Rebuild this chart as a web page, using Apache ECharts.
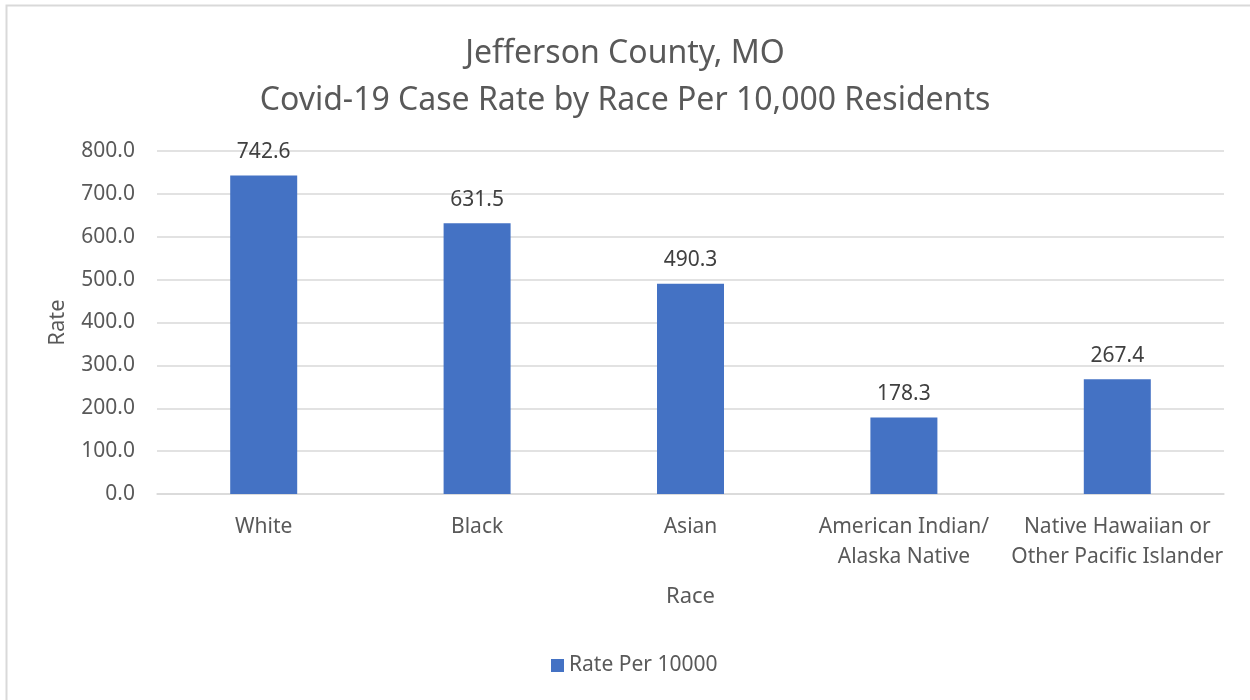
<!DOCTYPE html>
<html><head><meta charset="utf-8">
<script src="https://cdn.jsdelivr.net/npm/echarts@6/dist/echarts.min.js"></script>
<style>html,body{margin:0;padding:0;background:#fff}#c{width:1250px;height:700px}</style>
</head><body><div id="c"></div>
<script>
const categories = ['White', 'Black', 'Asian', 'American Indian/\nAlaska Native', 'Native Hawaiian or\nOther Pacific Islander'];
const rates = [742.6, 631.5, 490.3, 178.3, 267.4];
const seriesName = 'Rate Per 10000';
const titleLines = ['Jefferson County, MO', 'Covid-19 Case Rate by Race Per 10,000 Residents'];

const FONT = 'Noto Sans';
const TXT = '#595959';
const chart = echarts.init(document.getElementById('c'));
chart.setOption({
  animation: false,
  textStyle: { fontFamily: FONT },
  graphic: [{ type: 'rect', shape: { x: 6.5, y: 5.5, width: 1300, height: 800 }, style: { fill: 'none', stroke: '#d9d9d9', lineWidth: 2 } }],
  title: {
    text: titleLines.join('\n'), left: 'center', top: 25,
    textStyle: { fontFamily: FONT, fontSize: 32, fontWeight: 'normal', color: TXT, lineHeight: 47 }
  },
  legend: {
    bottom: 19, left: 546, itemWidth: 13, itemHeight: 13, icon: 'rect', itemGap: 6,
    textStyle: { fontFamily: FONT, fontSize: 21, color: TXT }
  },
  grid: { left: 157, right: 26, top: 151, bottom: 206, containLabel: false },
  xAxis: {
    type: 'category', data: categories,
    name: 'Race', nameLocation: 'middle', nameGap: 92,
    nameTextStyle: { fontFamily: FONT, fontSize: 22, color: TXT },
    axisLine: { lineStyle: { color: '#d9d9d9', width: 1.5 } },
    axisTick: { show: false },
    axisLabel: { fontFamily: FONT, fontSize: 21, color: TXT, margin: 18, lineHeight: 30, interval: 0 }
  },
  yAxis: {
    type: 'value', min: 0, max: 800, interval: 100,
    name: 'Rate', nameLocation: 'middle', nameGap: 88, nameRotate: 90,
    nameTextStyle: { fontFamily: FONT, fontSize: 22, color: TXT },
    axisLine: { show: false }, axisTick: { show: false },
    splitLine: { lineStyle: { color: '#d9d9d9', width: 1.5 } },
    axisLabel: { fontFamily: FONT, fontSize: 21, color: TXT, margin: 22, formatter: v => v.toFixed(1) }
  },
  series: [{
    name: seriesName, type: 'bar', data: rates, barWidth: 67,
    itemStyle: { color: '#4472C4' },
    label: { show: true, position: 'top', distance: 13, fontFamily: FONT, fontSize: 21, color: '#404040', formatter: p => p.value.toFixed(1) }
  }]
});
</script></body></html>
